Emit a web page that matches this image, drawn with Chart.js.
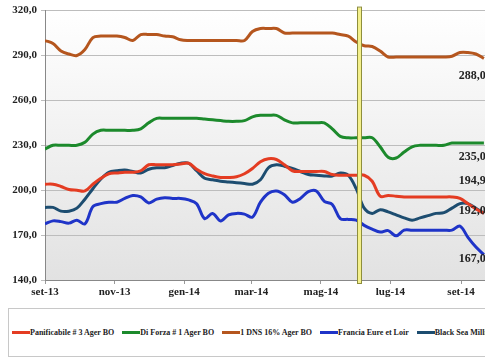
<!DOCTYPE html>
<html>
<head>
<meta charset="utf-8">
<script src="https://cdn.jsdelivr.net/npm/chart.js@4"></script>
<style>
  html, body { margin: 0; padding: 0; background: #fff; overflow: hidden; width: 485px; height: 360px; }
  #wrap { position: absolute; left: 0; top: 0; width: 520px; height: 300px; }
  #legend {
    position: absolute; left: 8px; top: 308px; width: 520px; height: 49px;
    border: 1px solid #c8c8c8; box-sizing: border-box;
    display: flex; align-items: center; padding-left: 3px;
    font-family: "Liberation Serif", serif; font-weight: bold; font-size: 8px; color: #222;
    white-space: nowrap;
  }
  .item { display: flex; align-items: center; margin-right: 8px; }
  .mark { width: 18px; height: 3px; }
</style>
</head>
<body>
<div id="wrap"><canvas id="priceChart"></canvas></div>
<div id="legend"></div>
<script>
// days since 1 Sep 2013, one point per week
const days = [0,7,14,21,28,35,42,49,56,63,70,77,84,91,98,105,112,119,126,133,140,147,154,161,168,175,182,189,196,203,210,217,224,231,238,245,252,259,266,273,280,287,294,301,308,315,322,329,336,343,350,357,364,371,378,385];

const monthTicks = [0, 61, 122, 181, 242, 303, 365];
const monthLabels = ['set-13', 'nov-13', 'gen-14', 'mar-14', 'mag-14', 'lug-14', 'set-14'];

const seriesNames = ['Panificabile # 3 Ager BO', 'Di Forza # 1 Ager BO', '1 DNS 16% Ager BO', 'Francia Eure et Loir', 'Black Sea Milling'];
const seriesColors = ['#e43c22', '#1c8a2c', '#b5561e', '#1f34c8', '#1d4d70'];

const panificabile = [204,204,202.5,200.5,200,199.5,204,208,211,211.5,212,212,213,217,217,217,217,217.5,218,214,211,209.5,208.5,208.5,209,211,214.5,219,221,220.5,217,213,212.5,212.5,212.5,212.5,210.5,210,210,210,210,206,196,196.5,196,195.5,195.5,195.5,195.5,195.5,195.5,195.5,194.5,191,187.5,184.5];
const diForza = [227.5,230,230,230,230,232,237.5,240,240,240,240,240,241,245,248,248,248,248,248,248,247.5,247,246.5,246,246,246.5,249,250,250,250,247,245,245,245,245,245,241,236,235,235,235,235,229,222,221.5,225.5,229,230,230,230,230,231.5,231.5,231.5,231.5,231.5];
const dns = [300,298,293,291,290,294,302,303,303,303,302,300,304,304,304,303,302.5,300.5,300,300,300,300,300,300,300,300,306,308,308,308,305,305,305,305,305,305,305,304,303,299,296.5,296,293,289,289,289,289,289,289,289,289,289.5,292,292,291,288];
const francia = [177.5,179.5,179,178,180,177.5,189,191,192,192,194.5,196.5,195.5,191.5,194,195,194.5,194.5,193.5,191,181,184.5,179.5,183.5,184.5,184,182,192,198,199.5,197,192,194.5,199,199.5,192.5,190.5,181,180.5,180,176.5,174,172,173,169.5,173.3,173.3,173.3,173.3,173.3,173.3,173.3,176,168.5,162,157];
const blackSea = [188.5,188.5,186,186,188,194,201,207.5,212,213,213.5,212.5,211.5,214,215,215,216.5,218,218,213,208,207,206,205.5,205,204.5,204,207,215,217,216,214.5,212.5,210.5,210,209.5,209.5,211.5,210,201,188,184.5,187,185.5,183.5,181.5,180,181.5,183,184.5,185,188,191,191,188,184.5];

const endLabels = ['194,9', '235,0', '288,0', '167,0', '192,0'];
const markerDay = 275;

const allSeries = [panificabile, diForza, dns, francia, blackSea];

const plotBackground = {
  id: 'plotBackground',
  beforeDraw(chart) {
    const { ctx, chartArea: a } = chart;
    const g = ctx.createLinearGradient(0, a.top, 0, a.bottom);
    g.addColorStop(0, '#ffffff');
    g.addColorStop(1, '#e2e2e2');
    ctx.save();
    ctx.fillStyle = g;
    ctx.fillRect(a.left, a.top, a.right - a.left, a.bottom - a.top);
    ctx.restore();
  }
};

const extras = {
  id: 'extras',
  afterDatasetsDraw(chart) {
    const { ctx, chartArea: a, scales } = chart;
    // harvest marker
    const mx = Math.round(scales.x.getPixelForValue(markerDay));
    ctx.save();
    ctx.fillStyle = '#f4f08c';
    ctx.strokeStyle = '#8e8e3c';
    ctx.lineWidth = 1;
    ctx.fillRect(mx - 1, a.top - 3, 3, a.bottom - a.top + 6);
    ctx.strokeRect(mx - 1.5, a.top - 3.5, 4, a.bottom - a.top + 7);
    // end-of-series labels
    const labelAt = [206, 222, 276.5, 154, 186];
    ctx.font = 'bold 12px "Liberation Serif"';
    ctx.fillStyle = '#222';
    ctx.textAlign = 'left';
    ctx.textBaseline = 'middle';
    const lx = scales.x.getPixelForValue(363);
    endLabels.forEach((t, i) => {
      ctx.fillText(t, lx, scales.y.getPixelForValue(labelAt[i]));
    });
    ctx.restore();
  }
};

new Chart(document.getElementById('priceChart'), {
  type: 'line',
  data: {
    datasets: allSeries.map((s, i) => ({
      label: seriesNames[i],
      data: days.map((d, k) => ({ x: d, y: s[k] })),
      borderColor: seriesColors[i],
      borderWidth: 3,
      pointRadius: 0,
      tension: 0.35,
      fill: false
    }))
  },
  options: {
    responsive: true,
    maintainAspectRatio: false,
    animation: false,
    layout: { padding: { top: 10, right: 19, left: 0, bottom: 0 } },
    plugins: { legend: { display: false }, tooltip: { enabled: false } },
    scales: {
      x: {
        type: 'linear',
        min: 0,
        max: 400,
        afterBuildTicks(scale) { scale.ticks = monthTicks.map(v => ({ value: v })); },
        afterFit(scale) { scale.height = 20; },
        ticks: {
          callback: (v) => monthLabels[monthTicks.indexOf(v)] || '',
          font: { family: 'Liberation Serif', weight: 'bold', size: 11 },
          color: '#222',
          maxRotation: 0,
          padding: 2
        },
        grid: { drawOnChartArea: false, drawTicks: true, tickLength: 4, color: '#999' },
        border: { display: true, color: '#888' }
      },
      y: {
        min: 140,
        max: 320,
        afterFit(scale) { scale.width = 45; },
        ticks: {
          stepSize: 30,
          callback: (v) => v.toFixed(1).replace('.', ','),
          font: { family: 'Liberation Serif', weight: 'bold', size: 11 },
          color: '#222',
          padding: 4
        },
        grid: { color: '#bdbdbd', tickLength: 4 },
        border: { display: true, color: '#888' }
      }
    }
  },
  plugins: [plotBackground, extras]
});

const legendEl = document.getElementById('legend');
legendEl.innerHTML = '';
seriesNames.forEach((name, i) => {
  legendEl.innerHTML += `
    <div class="item">
      <div class="mark" style="background-color: ${seriesColors[i]}"></div>
      <span>${name}</span>
    </div>`;
});
</script>
</body>
</html>
